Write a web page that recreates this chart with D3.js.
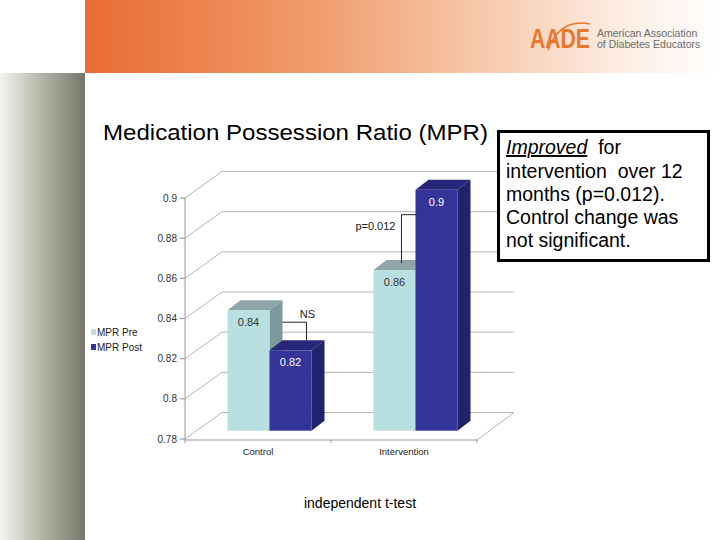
<!DOCTYPE html>
<html>
<head>
<meta charset="utf-8">
<script src="https://cdn.jsdelivr.net/npm/d3@7"></script>
<style>
  body { margin: 0; background: #fff; }
  svg { display: block; font-family: "Liberation Sans", Arial, sans-serif; }
</style>
</head>
<body>
<div id="chart"></div>
<script>
// chart data
const categories = ["Control", "Intervention"];
const seriesNames = ["MPR Pre", "MPR Post"];
const preValues = [0.84, 0.86];
const postValues = [0.82, 0.9];
const yTicks = [0.78, 0.8, 0.82, 0.84, 0.86, 0.88, 0.9];
const yTickLabels = ["0.78", "0.8", "0.82", "0.84", "0.86", "0.88", "0.9"];
const valueLabels = [["0.84", "0.82"], ["0.86", "0.9"]];
const significance = ["NS", "p=0.012"];
const noteLines = ["intervention  over 12", "months (p=0.012).", "Control change was", "not significant."];

const width = 720, height = 540;

const svg = d3.select("#chart")
  .append("svg")
  .attr("width", width)
  .attr("height", height);

const defs = svg.append("defs");

// slide decoration gradients
const orange = defs.append("linearGradient").attr("id", "orangeBand")
  .attr("x1", "0%").attr("x2", "100%").attr("y1", "0%").attr("y2", "0%");
orange.append("stop").attr("offset", "0%").attr("stop-color", "#e96c33");
orange.append("stop").attr("offset", "35%").attr("stop-color", "#f09a6a");
orange.append("stop").attr("offset", "65%").attr("stop-color", "#f8cdb2");
orange.append("stop").attr("offset", "85%").attr("stop-color", "#fdeee4");
orange.append("stop").attr("offset", "100%").attr("stop-color", "#ffffff");

const gray = defs.append("linearGradient").attr("id", "grayPanel")
  .attr("x1", "0%").attr("x2", "100%").attr("y1", "0%").attr("y2", "0%");
gray.append("stop").attr("offset", "0%").attr("stop-color", "#f4f4f1");
gray.append("stop").attr("offset", "45%").attr("stop-color", "#b9b9ab");
gray.append("stop").attr("offset", "100%").attr("stop-color", "#76766a");

svg.append("rect").attr("x", 85).attr("y", 0).attr("width", 635).attr("height", 73)
  .attr("fill", "url(#orangeBand)");
svg.append("rect").attr("x", 0).attr("y", 73).attr("width", 85).attr("height", 467)
  .attr("fill", "url(#grayPanel)");

// logo
const logo = svg.append("g");
logo.append("path")
  .attr("d", "M548,50 Q560,18 590,24")
  .attr("fill", "none").attr("stroke", "#e8782e").attr("stroke-width", 1.5);
logo.append("text").attr("x", 530).attr("y", 48)
  .attr("textLength", 60).attr("lengthAdjust", "spacingAndGlyphs")
  .style("font-size", "27px").style("font-weight", "bold")
  .attr("fill", "#e8782e").text("AADE");
logo.append("text").attr("x", 597).attr("y", 37)
  .style("font-size", "10.5px").attr("fill", "#6b6b6b").text("American Association");
logo.append("text").attr("x", 597).attr("y", 48)
  .style("font-size", "10.5px").attr("fill", "#6b6b6b").text("of Diabetes Educators");

// title
svg.append("text")
  .attr("x", 103).attr("y", 140)
  .attr("textLength", 385).attr("lengthAdjust", "spacingAndGlyphs")
  .style("font-size", "22px").attr("fill", "#000")
  .text("Medication Possession Ratio (MPR)");

// scales
const x = d3.scaleBand().domain(categories).range([185, 477]);
const xSub = d3.scaleBand().domain(seriesNames).range([0, x.bandwidth()]).paddingOuter(0.738);
const y = d3.scaleLinear().domain([0.78, 0.9]).range([439, 198]);

const wallDx = 37, wallDy = -26.5;   // depth of chart walls
const barShiftX = 11.5, barShiftY = -8.3; // bars sit a little back on the floor
const barDx = 13, barDy = -10;       // depth of each bar

const grid = svg.append("g").attr("stroke", "#b3b3b3").attr("fill", "none").attr("stroke-width", 1);

yTicks.forEach(t => {
  const yy = y(t);
  grid.append("line").attr("x1", 185).attr("y1", yy).attr("x2", 185 + wallDx).attr("y2", yy + wallDy);
  grid.append("line").attr("x1", 185 + wallDx).attr("y1", yy + wallDy)
    .attr("x2", x.range()[1] + wallDx).attr("y2", yy + wallDy);
  grid.append("line").attr("x1", 180).attr("y1", yy).attr("x2", 185).attr("y2", yy)
    .attr("stroke", "#888");
});

// floor front and right edge
const y0 = y(0.78);
grid.append("line").attr("x1", 185).attr("y1", y0 + 1).attr("x2", x.range()[1]).attr("y2", y0 + 1)
  .attr("stroke", "#999");
grid.append("line").attr("x1", x.range()[1]).attr("y1", y0 + 1)
  .attr("x2", x.range()[1] + wallDx).attr("y2", y0 + wallDy);
// front axis
grid.append("line").attr("x1", 185).attr("y1", y(0.9)).attr("x2", 185).attr("y2", y0 + 1)
  .attr("stroke", "#999");
// category ticks
[185, x("Intervention"), x.range()[1]].forEach(px => {
  grid.append("line").attr("x1", px).attr("y1", y0 + 1).attr("x2", px).attr("y2", y0 + 4)
    .attr("stroke", "#999");
});

// y tick labels
svg.append("g").selectAll("text")
  .data(yTicks)
  .join("text")
  .attr("x", 177)
  .attr("y", d => y(d) + 3.5)
  .attr("text-anchor", "end")
  .style("font-size", "10px")
  .attr("fill", "#333")
  .text((d, i) => yTickLabels[i]);

// category labels
svg.append("g").selectAll("text")
  .data(categories)
  .join("text")
  .attr("x", d => x(d) + x.bandwidth() / 2)
  .attr("y", 455)
  .attr("text-anchor", "middle")
  .style("font-size", "9.5px")
  .attr("fill", "#222")
  .text(d => d);

// bars
const colors = {
  "MPR Pre": { front: "#b9e0e1", top: "#8ea6a7", side: "#7a9a9b", label: "#333" },
  "MPR Post": { front: "#333399", top: "#27277a", side: "#22226a", label: "#fff" }
};

const barData = [];
categories.forEach((c, ci) => {
  barData.push({ cat: c, ci: ci, series: "MPR Pre", value: preValues[ci], label: valueLabels[ci][0] });
  barData.push({ cat: c, ci: ci, series: "MPR Post", value: postValues[ci], label: valueLabels[ci][1] });
});

const barGeom = d => {
  const x0 = x(d.cat) + xSub(d.series) + barShiftX;
  const x1 = x0 + xSub.bandwidth();
  const top = y(d.value) + barShiftY;
  const bottom = y(0.78) + barShiftY;
  return { x0, x1, top, bottom };
};

const bars = svg.append("g").selectAll("g")
  .data(barData)
  .join("g");

bars.append("path")
  .attr("fill", d => colors[d.series].side)
  .attr("d", d => {
    const g = barGeom(d);
    return `M${g.x1},${g.top}L${g.x1 + barDx},${g.top + barDy}L${g.x1 + barDx},${g.bottom + barDy}L${g.x1},${g.bottom}Z`;
  });

bars.append("path")
  .attr("fill", d => colors[d.series].top)
  .attr("d", d => {
    const g = barGeom(d);
    return `M${g.x0},${g.top}L${g.x1},${g.top}L${g.x1 + barDx},${g.top + barDy}L${g.x0 + barDx},${g.top + barDy}Z`;
  });

bars.append("rect")
  .attr("x", d => barGeom(d).x0)
  .attr("y", d => barGeom(d).top)
  .attr("width", xSub.bandwidth())
  .attr("height", d => barGeom(d).bottom - barGeom(d).top)
  .attr("fill", d => colors[d.series].front);

bars.append("text")
  .attr("x", d => (barGeom(d).x0 + barGeom(d).x1) / 2)
  .attr("y", d => barGeom(d).top + 16)
  .attr("text-anchor", "middle")
  .style("font-size", "11px")
  .attr("fill", d => colors[d.series].label)
  .text(d => d.label);

// significance brackets
const ann = svg.append("g").attr("stroke", "#222").attr("fill", "none").attr("stroke-width", 1);

// Control: NS
{
  const pre = barGeom(barData[0]);
  const post = barGeom(barData[1]);
  const yy = pre.top + 12;
  const bx = (post.x0 + post.x1) / 2 + 16;
  ann.append("path").attr("d", `M${pre.x1 + barDx},${yy}H${bx}V${post.top + barDy}`);
  svg.append("text").attr("x", bx + 1).attr("y", yy - 4).attr("text-anchor", "middle")
    .style("font-size", "11px").attr("fill", "#222").text(significance[0]);
}
// Intervention: p=0.012
{
  const pre = barGeom(barData[2]);
  const post = barGeom(barData[3]);
  const yy = post.top + 25;
  const bx = (pre.x0 + pre.x1) / 2 + 7;
  ann.append("path").attr("d", `M${post.x0 + 1},${yy}H${bx}V${pre.top + barDy + 3}`);
  svg.append("text").attr("x", bx - 6).attr("y", yy + 15).attr("text-anchor", "end")
    .style("font-size", "11px").attr("fill", "#222").text(significance[1]);
}

// legend
const legend = svg.append("g");
seriesNames.forEach((s, i) => {
  const ly = 332 + i * 15;
  legend.append("rect").attr("x", 91).attr("y", ly - 3).attr("width", 5).attr("height", 6)
    .attr("fill", i === 0 ? "#c8dcdc" : colors[s].front);
  legend.append("text").attr("x", 97).attr("y", ly + 3.5)
    .style("font-size", "10px").attr("fill", "#222").text(s);
});

// note box
svg.append("rect")
  .attr("x", 498.5).attr("y", 131.5).attr("width", 210).attr("height", 129)
  .attr("fill", "#fff").attr("stroke", "#000").attr("stroke-width", 3);

const note = svg.append("text").style("font-size", "19.5px").attr("fill", "#000");
note.append("tspan").attr("x", 506).attr("y", 154)
  .style("font-style", "italic").style("text-decoration", "underline").text("Improved");
note.append("tspan").text("  for").attr("xml:space", "preserve");
noteLines.forEach((line, i) => {
  svg.append("text").attr("x", 506).attr("y", 177.5 + i * 23.2)
    .style("font-size", "19.5px").style("white-space", "pre").attr("fill", "#000").text(line);
});

// footnote
svg.append("text")
  .attr("x", 360).attr("y", 508)
  .attr("text-anchor", "middle")
  .style("font-size", "14px").attr("fill", "#000")
  .text("independent t-test");
</script>
</body>
</html>
